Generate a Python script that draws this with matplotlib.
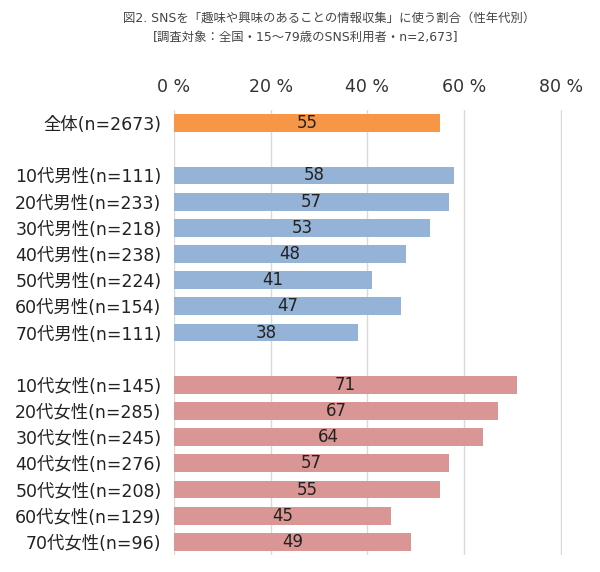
import numpy as np
import matplotlib.pyplot as plt

plt.rcParams['font.family'] = ['DejaVu Sans', 'Noto Sans CJK JP']

# data
total_label = ['全体(n=2673)']
total_vals = [55]
male_labels = ['10代男性(n=111)', '20代男性(n=233)', '30代男性(n=218)', '40代男性(n=238)',
               '50代男性(n=224)', '60代男性(n=154)', '70代男性(n=111)']
male_vals = [58, 57, 53, 48, 41, 47, 38]
female_labels = ['10代女性(n=145)', '20代女性(n=285)', '30代女性(n=245)', '40代女性(n=276)',
                 '50代女性(n=208)', '60代女性(n=129)', '70代女性(n=96)']
female_vals = [71, 67, 64, 57, 55, 45, 49]
xticks = [0, 20, 40, 60, 80]

fig = plt.figure(figsize=(6, 5.72), dpi=100)
ax = fig.add_axes([0.29, 0.0297, 0.6467, 0.778])

# row positions, one blank row between groups
pos_total = [0]
pos_male = list(range(2, 2 + len(male_vals)))
pos_female = list(range(10, 10 + len(female_vals)))

groups = [(pos_total, total_vals, '#F79646'),
          (pos_male, male_vals, '#95B3D7'),
          (pos_female, female_vals, '#D99694')]
for pos, vals, col in groups:
    ax.barh(pos, vals, height=0.68, color=col, zorder=3)
    for p, v in zip(pos, vals):
        ax.text(v / 2, p, str(v), ha='center', va='center', fontsize=12, color='#222222', zorder=4)

ax.set_xlim(0, 80.3)
ax.set_ylim(16.5, -0.5)
ax.set_xticks(xticks)
ax.set_xticklabels([f'{t} %' for t in xticks], fontsize=12.5, color='#333333')
ax.xaxis.tick_top()
ax.tick_params(axis='x', length=0, pad=10)
ax.set_yticks(pos_total + pos_male + pos_female)
ax.set_yticklabels(total_label + male_labels + female_labels, fontsize=12.5, color='#222222')
ax.tick_params(axis='y', length=0, pad=9)
ax.grid(axis='x', color='#D9D9D9', linewidth=1, zorder=0)
for s in ax.spines.values():
    s.set_visible(False)

fig.text(0.548, 0.968, '図2. SNSを「趣味や興味のあることの情報収集」に使う割合（性年代別）',
         ha='center', va='center', fontsize=8.9, color='#444444')
fig.text(0.51, 0.934, '[調査対象：全国・15～79歳のSNS利用者・n=2,673]',
         ha='center', va='center', fontsize=8.9, color='#444444')

fig.savefig('out.png', dpi=100)
